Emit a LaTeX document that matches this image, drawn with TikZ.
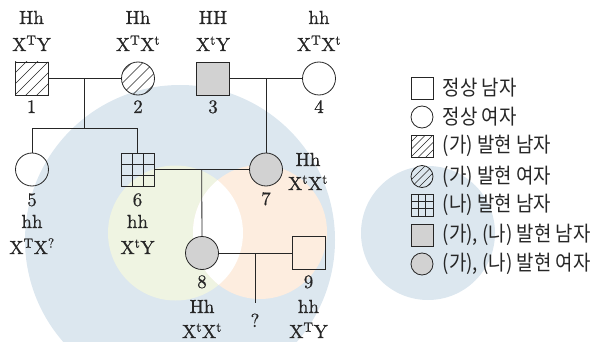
\documentclass[tikz,border=0pt]{standalone}
\usepackage{fontspec}
\usepackage{tikz}
\usepackage{xcolor}
\usetikzlibrary{positioning,calc}
\newfontfamily\kofont[FakeStretch=0.9]{Noto Sans CJK KR}
\newfontfamily\gtfont[FakeBold=0.6]{lmroman10-regular.otf}
\definecolor{bgblue}{HTML}{DCE7EF}
\definecolor{bggreen}{HTML}{EFF4E2}
\definecolor{bgorange}{HTML}{FDEDDF}
\definecolor{affgray}{HTML}{D2D2D2}
\definecolor{ink}{HTML}{262626}

\begin{document}
\begin{tikzpicture}[x=1pt, y=-1pt, line width=0.8pt, every node/.style={inner sep=0pt},
  male/.style={draw=ink, rectangle, minimum size=33pt},
  female/.style={draw=ink, circle, minimum size=33pt},
  small/.style={minimum size=22pt},
  affected/.style={fill=affgray},
  hatch/.style={path picture={
    \foreach \k in {-3,...,3}
      \draw[ink, line width=0.6pt]
        ([shift={(\k*#1-40,40)}]path picture bounding box.center) --
        ([shift={(\k*#1+40,-40)}]path picture bounding box.center);}},
  gridded/.style={path picture={
    \foreach \k in {-1,1} {
      \draw[ink, line width=0.6pt]
        ([shift={(\k*#1/2,-20)}]path picture bounding box.center) --
        ([shift={(\k*#1/2,20)}]path picture bounding box.center);
      \draw[ink, line width=0.6pt]
        ([shift={(-20,\k*#1/2)}]path picture bounding box.center) --
        ([shift={(20,\k*#1/2)}]path picture bounding box.center);}}},
  gt/.style={font=\gtfont\fontsize{19}{22}\selectfont, text=ink, anchor=base},
  ko/.style={font=\kofont\fontsize{21}{24}\selectfont, text=ink}]
  \useasboundingbox (0,0) rectangle (599,342);
  % background discs
  \begin{scope}
    \clip (0,0) rectangle (599,342);
    \fill[bgblue] (180,240) circle [radius=155pt];
    \fill[bgblue] (428,233) circle [radius=67pt];
    \fill[bggreen] (175.5,233) circle [radius=67.5pt];
    \fill[bgorange] (260,232) circle [radius=67pt];
    \clip (175.5,233) circle [radius=67.5pt];
    \fill[white] (260,232) circle [radius=67pt];
  \end{scope}
  % generation I
  \node[male, hatch=11] (p1) at (31.5,78.5) {};
  \node[female, hatch=11] (p2) at (138,78.5) {};
  \node[male, affected] (p3) at (213,78.5) {};
  \node[female] (p4) at (319,78.5) {};
  % generation II
  \node[female] (p5) at (32,169.5) {};
  \node[male, gridded=11] (p6) at (137.5,169.5) {};
  \node[female, affected] (p7) at (266,169.5) {};
  % generation III
  \node[female, affected] (p8) at (202,253) {};
  \node[male] (p9) at (308.5,253) {};
  % couple 1-2 and children 5, 6
  \coordinate (m12) at ($(p1.east)!0.5!(p2.west)$);
  \coordinate (s12) at ($(m12)+(0,50)$);
  \draw[ink] (p1) -- (p2);
  \draw[ink] (m12) -- (s12);
  \draw[ink] (p5.north) |- (s12) -| (p6.north);
  % couple 3-4 and child 7
  \coordinate (m34) at ($(p3.east)!0.5!(p4.west)$);
  \draw[ink] (p3) -- (p4);
  \draw[ink] (m34) -- (p7);
  % couple 6-7 and child 8
  \coordinate (m67) at ($(p6.east)!0.5!(p7.west)$);
  \draw[ink] (p6) -- (p7);
  \draw[ink] (m67) -- (p8);
  % couple 8-9 and unknown child
  \coordinate (m89) at ($(p8.east)!0.5!(p9.west)$);
  \coordinate (e89) at ($(m89)+(0,50)$);
  \draw[ink] (p8) -- (p9);
  \draw[ink] (m89) -- (e89);
  \node[gt] (q) at (255,327) {?};
  % genotypes, generation I
  \node[gt] (g1a) at (31.5,24) {Hh};
  \node[gt] (g1b) at (31.5,51) {X\textsuperscript{T}Y};
  \node[gt] (n1) at (31.5,113) {1};
  \node[gt] (g2a) at (138,24) {Hh};
  \node[gt] (g2b) at (138,51) {X\textsuperscript{T}X\textsuperscript{t}};
  \node[gt] (n2) at (138,113) {2};
  \node[gt] (g3a) at (213,24) {HH};
  \node[gt] (g3b) at (213,51) {X\textsuperscript{t}Y};
  \node[gt] (n3) at (213,113) {3};
  \node[gt] (g4a) at (319,24) {hh};
  \node[gt] (g4b) at (319,51) {X\textsuperscript{T}X\textsuperscript{t}};
  \node[gt] (n4) at (319,113) {4};
  % genotypes, generation II
  \node[gt] (n5) at (32,206) {5};
  \node[gt] (g5a) at (32,228) {hh};
  \node[gt] (g5b) at (32,254) {X\textsuperscript{T}X\textsuperscript{?}};
  \node[gt] (n6) at (137.5,206) {6};
  \node[gt] (g6a) at (137.5,228) {hh};
  \node[gt] (g6b) at (137.5,254) {X\textsuperscript{t}Y};
  \node[gt] (n7) at (266,205) {7};
  \node[gt] (g7a) at (308,166) {Hh};
  \node[gt] (g7b) at (308,190) {X\textsuperscript{t}X\textsuperscript{t}};
  % genotypes, generation III
  \node[gt] (n8) at (202,288) {8};
  \node[gt] (g8a) at (202,313) {Hh};
  \node[gt] (g8b) at (202,338) {X\textsuperscript{t}X\textsuperscript{t}};
  \node[gt] (n9) at (308.5,288) {9};
  \node[gt] (g9a) at (308.5,313) {hh};
  \node[gt] (g9b) at (308.5,338) {X\textsuperscript{T}Y};
  % legend
  \node[male, small] (l1) at (422,88) {};
  \node[ko, right=9pt of l1] (t1) {정상 남자};
  \node[female, small] (l2) at (422,117) {};
  \node[ko, right=9pt of l2] (t2) {정상 여자};
  \node[male, small, hatch=7.5] (l3) at (422,146) {};
  \node[ko, right=9pt of l3] (t3) {(가) 발현 남자};
  \node[female, small, hatch=7.5] (l4) at (422,176.5) {};
  \node[ko, right=9pt of l4] (t4) {(가) 발현 여자};
  \node[male, small, gridded=7.33] (l5) at (422,205) {};
  \node[ko, right=9pt of l5] (t5) {(나) 발현 남자};
  \node[male, small, affected] (l6) at (422,235) {};
  \node[ko, right=9pt of l6] (t6) {(가), (나) 발현 남자};
  \node[female, small, affected] (l7) at (422,264) {};
  \node[ko, right=9pt of l7] (t7) {(가), (나) 발현 여자};
\end{tikzpicture}
\end{document}
